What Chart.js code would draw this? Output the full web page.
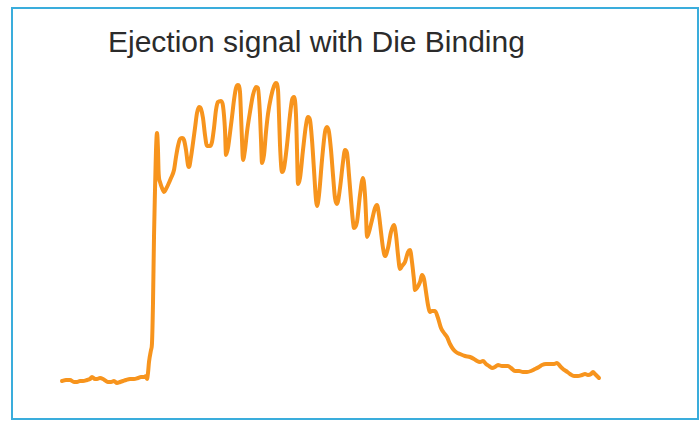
<!DOCTYPE html>
<html>
<head>
<meta charset="utf-8">
<script src="https://cdn.jsdelivr.net/npm/chart.js@4/dist/chart.umd.min.js"></script>
<style>
  html, body { margin: 0; padding: 0; background: #fff; }
  #wrap { position: relative; width: 699px; height: 421px; overflow: hidden; }
  #frame {
    position: absolute; left: 11px; top: 7px; width: 688px; height: 413px;
    box-sizing: border-box; border: 2px solid #3aaddc;
  }
  #title {
    position: absolute; left: 108px; top: 27px; margin: 0;
    font-family: "Liberation Sans", Arial, sans-serif; font-size: 30px;
    line-height: 30px; font-weight: normal; color: #2b2b2b; white-space: nowrap;
  }
  canvas { position: absolute; left: 0; top: 0; }
</style>
</head>
<body>
<div id="wrap">
  <div id="frame"></div>
  <h1 id="title">Ejection signal with Die Binding</h1>
  <canvas id="c" width="699" height="421"></canvas>
</div>
<script>
// Sample index of each reading
const sampleIndex = [
  0, 4, 8, 12, 15, 18, 21, 25, 28, 30, 33, 35, 38, 41, 44, 46, 49, 52, 55, 58,
  61, 64, 68, 72, 76, 79, 82, 84, 85,
  86, 87, 89, 90, 91, 92, 93, 93.5, 94, 95, 96, 96.5, 97, 98, 100, 102, 104, 106, 109, 112,
  114, 116, 118, 120, 122, 124, 126, 127, 129, 131, 133, 135, 137, 139, 141, 143, 145, 148,
  150, 152, 154, 156, 159, 161, 163, 164, 166, 168, 170, 172, 174, 176, 178, 179, 180, 181,
  183, 185, 188, 191, 194, 196, 198, 199, 200, 202, 204, 206, 209, 212, 214, 216, 217, 218,
  220, 222, 225, 228, 230, 232, 234, 235, 236, 238, 241, 244, 246, 248, 250, 252, 254, 255,
  257, 260, 263, 265, 267, 269, 271, 273, 275, 278, 281, 283, 285, 287, 289, 291, 292, 295,
  298, 301, 303, 304, 305, 307, 310, 313, 315, 317, 319, 321, 323, 326, 329, 332, 334, 336,
  338, 340, 343, 346, 348, 350, 352, 353, 355, 358, 360, 362, 364, 366, 368, 370, 373, 376,
  379, 382, 385, 388, 391, 394, 398, 403, 408, 412, 415, 418, 421, 424, 427, 430, 433, 436,
  440, 443, 446, 449, 453, 457, 461, 465, 469, 473, 477, 480, 484, 488, 492, 495, 498, 501,
  504, 508, 512, 516, 520, 523, 526, 529, 531, 533, 535, 537
];

// Ejection signal level (counts) at each sample
const ejectionSignal = [
  19, 20, 20, 18, 18, 19, 19, 20, 21, 23, 21, 21, 22, 21, 19, 18, 18, 19, 17, 18,
  19, 20, 21, 21, 22, 23, 23, 24, 21,
  27, 38, 50, 57, 97, 163, 210, 231, 250, 267, 250, 230, 222, 218, 212, 208, 211, 215, 222, 230,
  243, 254, 261, 262, 260, 250, 235, 233, 243, 257, 272, 287, 293, 291, 282, 265, 254, 254,
  258, 272, 290, 298, 299, 294, 270, 245, 252, 267, 283, 300, 312, 315, 308, 285, 260, 240,
  250, 268, 288, 305, 313, 312, 285, 260, 237, 245, 268, 286, 303, 314, 317, 310, 285, 255,
  228, 232, 255, 285, 300, 303, 285, 250, 216, 222, 250, 275, 283, 280, 260, 230, 200, 194,
  205, 240, 268, 273, 268, 250, 225, 202, 196, 212, 238, 250, 247, 225, 200, 178, 172, 178,
  205, 222, 205, 185, 163, 168, 180, 192, 195, 185, 168, 152, 144, 152, 168, 175, 165, 145,
  131, 134, 138, 148, 150, 138, 120, 110, 112, 118, 125, 121, 108, 95, 88, 89, 89, 82,
  72, 67, 63, 56, 51, 48, 46, 44, 43, 41, 39, 38, 39, 36, 34, 32, 33, 35,
  34, 34, 34, 32, 29, 29, 28, 28, 29, 31, 33, 35, 36, 36, 36, 37, 34, 31,
  29, 26, 24, 24, 25, 26, 25, 26, 28, 26, 24, 22
];

const points = sampleIndex.map((t, i) => ({ x: t, y: ejectionSignal[i] }));

new Chart(document.getElementById('c'), {
  type: 'line',
  data: {
    datasets: [{
      label: 'Ejection signal',
      data: points,
      borderColor: '#f7941d',
      borderWidth: 4,
      pointRadius: 0,
      cubicInterpolationMode: 'monotone',
      fill: false,
      clip: false,
      borderJoinStyle: 'round',
      borderCapStyle: 'round'
    }]
  },
  options: {
    responsive: false,
    animation: false,
    layout: { padding: { left: 62, right: 101, top: 80, bottom: 21 } },
    plugins: { legend: { display: false }, tooltip: { enabled: false }, title: { display: false } },
    scales: {
      x: { type: 'linear', min: 0, max: 536, display: false },
      y: { type: 'linear', min: 0, max: 320, display: false }
    }
  }
});
</script>
</body>
</html>
